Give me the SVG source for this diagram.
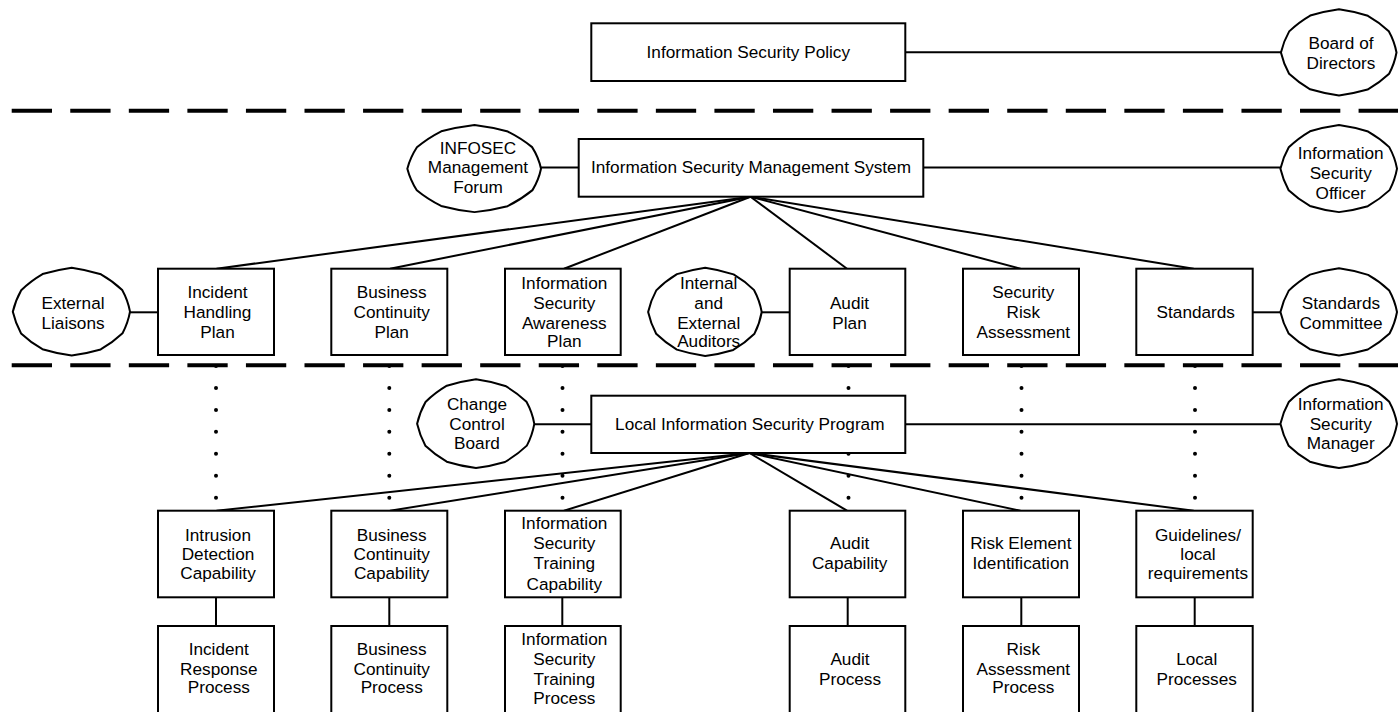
<svg xmlns="http://www.w3.org/2000/svg" xmlns:xlink="http://www.w3.org/1999/xlink" width="1398" height="712" viewBox="0 0 1398 712">
  <style>
    .box { fill: #fff; stroke: #000; stroke-width: 2; }
    .blob { fill: #fff; stroke: #000; stroke-width: 2; }
    .link { fill: none; stroke: #000; stroke-width: 2; }
    .tier { fill: none; stroke: #000; stroke-width: 4; stroke-dasharray: 40.3 18.26; }
    .dots { fill: none; stroke: #000; stroke-width: 4; stroke-linecap: round; stroke-dasharray: 0 21.95; }
    text { font-family: "Liberation Sans", Arial, Helvetica, sans-serif; font-size: 17.2px; text-anchor: middle; fill: #000; }
  </style>
  <defs>
    <!-- hand-drawn style oval, unit radius; scaled per node -->
    <path id="oval" vector-effect="non-scaling-stroke" d="M 1 0 Q 0.9659 0.2588 0.872 0.498 Q 0.7071 0.7071 0.497 0.872 Q 0.2588 0.9659 0 1.01 Q -0.2588 0.9659 -0.502 0.866 Q -0.7071 0.7071 -0.868 0.502 Q -0.9659 0.2588 -1.01 0 Q -0.9659 -0.2588 -0.866 -0.497 Q -0.7071 -0.7071 -0.5 -0.87 Q -0.2588 -0.9659 0 -1.015 Q 0.2588 -0.9659 0.502 -0.864 Q 0.7071 -0.7071 0.866 -0.502 Q 0.9659 -0.2588 1 0 Z"/>
  </defs>

  <!-- tier separators and dotted traces -->
  <g id="separators">
    <path class="tier" d="M 11.7 110.7 H 1398"/>
    <path class="tier" d="M 11.7 365.3 H 1398"/>
  </g>
  <g id="traces">
    <path class="dots" d="M 216 366 V 498"/>
    <path class="dots" d="M 389.3 366 V 498"/>
    <path class="dots" d="M 562.5 366 V 498"/>
    <path class="dots" d="M 848.5 366 V 498"/>
    <path class="dots" d="M 1021.5 366 V 498"/>
    <path class="dots" d="M 1195 366 V 498"/>
  </g>

  <!-- connectors -->
  <g id="connectors">
    <path class="link" d="M 905 52.3 H 1282"/>
    <path class="link" d="M 540 167.5 H 579"/>
    <path class="link" d="M 923 167.5 H 1282"/>
    <path class="link" d="M 129 312.3 H 158"/>
    <path class="link" d="M 761 312.3 H 790"/>
    <path class="link" d="M 1252 312.3 H 1282"/>
    <path class="link" d="M 533 424.3 H 591"/>
    <path class="link" d="M 905 424.3 H 1282"/>
    <!-- management system fan-out -->
    <path class="link" d="M 750.5 196.7 L 216.5 268.7"/>
    <path class="link" d="M 750.5 196.7 L 390 268.7"/>
    <path class="link" d="M 750.5 196.7 L 564 268.7"/>
    <path class="link" d="M 750.5 196.7 L 847 268.7"/>
    <path class="link" d="M 750.5 196.7 L 1020.5 268.7"/>
    <path class="link" d="M 750.5 196.7 L 1193.7 268.7"/>
    <!-- local program fan-out -->
    <path class="link" d="M 749.5 453 L 216.5 510.7"/>
    <path class="link" d="M 749.5 453 L 390 510.7"/>
    <path class="link" d="M 749.5 453 L 564 510.7"/>
    <path class="link" d="M 749.5 453 L 847 510.7"/>
    <path class="link" d="M 749.5 453 L 1020.5 510.7"/>
    <path class="link" d="M 749.5 453 L 1193.7 510.7"/>
    <!-- capability to process -->
    <path class="link" d="M 216 597 V 626"/>
    <path class="link" d="M 389.3 597 V 626"/>
    <path class="link" d="M 562.3 597 V 626"/>
    <path class="link" d="M 847.7 597 V 626"/>
    <path class="link" d="M 1021.3 597 V 626"/>
    <path class="link" d="M 1194.7 597 V 626"/>
  </g>

  <!-- top tier -->
  <g id="policy">
    <rect class="box" x="591.3" y="23.3" width="314" height="57.7"/>
    <text x="748.3" y="58.3">Information Security Policy</text>
  </g>
  <g id="board">
    <use class="blob" xlink:href="#oval" href="#oval" transform="translate(1339 52.5) scale(57.5 42.5)"/>
    <text x="1341" y="49.3">Board of</text>
    <text x="1341" y="68.7">Directors</text>
  </g>

  <!-- management tier -->
  <g id="isms">
    <rect class="box" x="578.7" y="139" width="344.6" height="57.7"/>
    <text x="751" y="173.3">Information Security Management System</text>
  </g>
  <g id="infosec-forum">
    <use class="blob" xlink:href="#oval" href="#oval" transform="translate(474.5 168.7) scale(66.5 43)"/>
    <text x="478" y="154.3">INFOSEC</text>
    <text x="478" y="173.3">Management</text>
    <text x="478" y="193.3">Forum</text>
  </g>
  <g id="security-officer">
    <use class="blob" xlink:href="#oval" href="#oval" transform="translate(1339 168.7) scale(58 43)"/>
    <text x="1340.7" y="159.3">Information</text>
    <text x="1340.7" y="179.3">Security</text>
    <text x="1340.7" y="198.7">Officer</text>
  </g>

  <g id="external-liaisons">
    <use class="blob" xlink:href="#oval" href="#oval" transform="translate(71.7 311.7) scale(58.3 43.3)"/>
    <text x="73" y="309.3">External</text>
    <text x="73" y="329.3">Liaisons</text>
  </g>
  <g id="incident-plan">
    <rect class="box" x="158" y="268.7" width="116" height="86.3"/>
    <text x="217.5" y="298.3">Incident</text>
    <text x="217.5" y="318.3">Handling</text>
    <text x="217.5" y="338.3">Plan</text>
  </g>
  <g id="continuity-plan">
    <rect class="box" x="331.3" y="268.7" width="116" height="86.3"/>
    <text x="391.7" y="298.3">Business</text>
    <text x="391.7" y="318.3">Continuity</text>
    <text x="391.7" y="338.3">Plan</text>
  </g>
  <g id="awareness-plan">
    <rect class="box" x="505" y="268.7" width="115.7" height="86.3"/>
    <text x="564.3" y="289.3">Information</text>
    <text x="564.3" y="309.3">Security</text>
    <text x="564.3" y="329.3">Awareness</text>
    <text x="564.3" y="347">Plan</text>
  </g>
  <g id="auditors">
    <use class="blob" xlink:href="#oval" href="#oval" transform="translate(705.2 312) scale(56.5 43.5)"/>
    <text x="708.7" y="289.3">Internal</text>
    <text x="708.7" y="309.3">and</text>
    <text x="708.7" y="329.3">External</text>
    <text x="708.7" y="347">Auditors</text>
  </g>
  <g id="audit-plan">
    <rect class="box" x="789.7" y="268.7" width="115.6" height="86.3"/>
    <text x="849.5" y="309.3">Audit</text>
    <text x="849.5" y="329.3">Plan</text>
  </g>
  <g id="risk-assessment">
    <rect class="box" x="963" y="268.7" width="116" height="86.3"/>
    <text x="1023.3" y="298.3">Security</text>
    <text x="1023.3" y="318.3">Risk</text>
    <text x="1023.3" y="338.3">Assessment</text>
  </g>
  <g id="standards">
    <rect class="box" x="1136.3" y="268.7" width="116.4" height="86.3"/>
    <text x="1195.8" y="318.3">Standards</text>
  </g>
  <g id="standards-committee">
    <use class="blob" xlink:href="#oval" href="#oval" transform="translate(1339 312) scale(58 43)"/>
    <text x="1341" y="309.3">Standards</text>
    <text x="1341" y="329.3">Committee</text>
  </g>

  <!-- local tier -->
  <g id="local-program">
    <rect class="box" x="591.3" y="395.7" width="314" height="57.3"/>
    <text x="749.8" y="430.3">Local Information Security Program</text>
  </g>
  <g id="change-board">
    <use class="blob" xlink:href="#oval" href="#oval" transform="translate(476 423.8) scale(58.3 43.8)"/>
    <text x="477" y="410.3">Change</text>
    <text x="477" y="430.3">Control</text>
    <text x="477" y="448.7">Board</text>
  </g>
  <g id="security-manager">
    <use class="blob" xlink:href="#oval" href="#oval" transform="translate(1339 423.8) scale(58 43.8)"/>
    <text x="1340.7" y="410.3">Information</text>
    <text x="1340.7" y="430.3">Security</text>
    <text x="1340.7" y="448.7">Manager</text>
  </g>

  <g id="intrusion-detection">
    <rect class="box" x="158" y="510.7" width="116" height="86.6"/>
    <text x="218" y="540.7">Intrusion</text>
    <text x="218" y="560.3">Detection</text>
    <text x="218" y="578.7">Capability</text>
  </g>
  <g id="continuity-capability">
    <rect class="box" x="331.3" y="510.7" width="116" height="86.6"/>
    <text x="391.7" y="540.7">Business</text>
    <text x="391.7" y="560.3">Continuity</text>
    <text x="391.7" y="578.7">Capability</text>
  </g>
  <g id="training-capability">
    <rect class="box" x="505" y="510.7" width="115.7" height="86.6"/>
    <text x="564.3" y="529.3">Information</text>
    <text x="564.3" y="549.3">Security</text>
    <text x="564.3" y="569.3">Training</text>
    <text x="564.3" y="589.7">Capability</text>
  </g>
  <g id="audit-capability">
    <rect class="box" x="789.7" y="510.7" width="115.6" height="86.6"/>
    <text x="849.7" y="549.3">Audit</text>
    <text x="849.7" y="569.3">Capability</text>
  </g>
  <g id="risk-element">
    <rect class="box" x="963" y="510.7" width="116" height="86.6"/>
    <text x="1020.8" y="549.3">Risk Element</text>
    <text x="1020.8" y="569.3">Identification</text>
  </g>
  <g id="guidelines">
    <rect class="box" x="1136.3" y="510.7" width="116.4" height="86.6"/>
    <text x="1198" y="540.7">Guidelines/</text>
    <text x="1198" y="560.3">local</text>
    <text x="1198" y="578.7">requirements</text>
  </g>

  <g id="incident-response">
    <rect class="box" x="158" y="626" width="116" height="100"/>
    <text x="218.8" y="655.3">Incident</text>
    <text x="218.8" y="675.3">Response</text>
    <text x="218.8" y="693.3">Process</text>
  </g>
  <g id="continuity-process">
    <rect class="box" x="331.3" y="626" width="116" height="100"/>
    <text x="391.7" y="655.3">Business</text>
    <text x="391.7" y="675.3">Continuity</text>
    <text x="391.7" y="693.3">Process</text>
  </g>
  <g id="training-process">
    <rect class="box" x="505" y="626" width="115.7" height="100"/>
    <text x="564.3" y="645.3">Information</text>
    <text x="564.3" y="664.7">Security</text>
    <text x="564.3" y="684.7">Training</text>
    <text x="564.3" y="704.3">Process</text>
  </g>
  <g id="audit-process">
    <rect class="box" x="789.7" y="626" width="115.6" height="100"/>
    <text x="850" y="664.7">Audit</text>
    <text x="850" y="684.7">Process</text>
  </g>
  <g id="risk-process">
    <rect class="box" x="963" y="626" width="116" height="100"/>
    <text x="1023.3" y="655.3">Risk</text>
    <text x="1023.3" y="675.3">Assessment</text>
    <text x="1023.3" y="693.3">Process</text>
  </g>
  <g id="local-processes">
    <rect class="box" x="1136.3" y="626" width="116.4" height="100"/>
    <text x="1196.7" y="664.7">Local</text>
    <text x="1196.7" y="684.7">Processes</text>
  </g>
</svg>
